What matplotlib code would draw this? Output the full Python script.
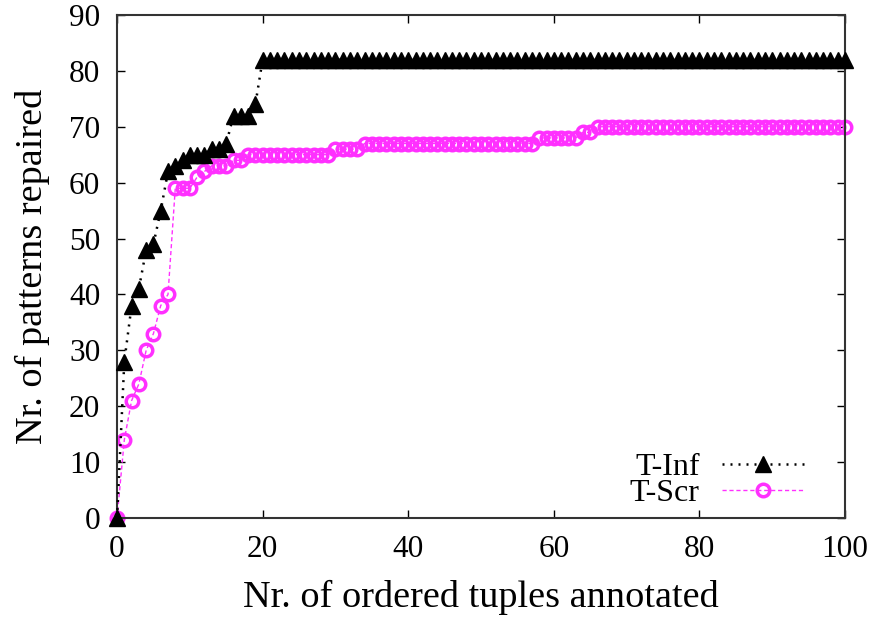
import numpy as np
import matplotlib
matplotlib.use('Agg')
import matplotlib.pyplot as plt

# Tuplas anotadas (eje x) y patrones reparados por cada estrategia
tuplas = np.arange(0, 101)

t_inf_ini = [0, 28, 38, 41, 48, 49, 55, 62, 63, 64, 65, 65, 65, 66, 66, 67,
             72, 72, 72, 74]
t_inf = t_inf_ini + [82] * (101 - len(t_inf_ini))

t_scr_ini = [0, 14, 21, 24, 30, 33, 38, 40, 59, 59, 59, 61, 62, 63, 63, 63,
             64, 64]
t_scr = (t_scr_ini + [65] * 12 + [66] * 4 + [67] * 24 + [68] * 6 + [69] * 2
         + [70] * 35)

plt.rcParams['font.family'] = ['Liberation Serif', 'DejaVu Serif']

fig = plt.figure(figsize=(8.88, 6.2), dpi=100)
ax = fig.add_axes([0.1318, 0.1645, 0.8198, 0.8113])

ax.plot(tuplas, t_inf, color='black', linestyle=(0, (0.8, 2.4)), linewidth=1.8,
        marker='^', markersize=11.5, markerfacecolor='black',
        markeredgecolor='black', label='T-Inf', zorder=3, clip_on=False)
ax.plot(tuplas, t_scr, color='#ff30ff', linestyle=(0, (3, 2)), linewidth=1.0,
        marker='o', markersize=9, markerfacecolor='none',
        markeredgecolor='#ff30ff', markeredgewidth=2.5, label='T-Scr',
        zorder=2, clip_on=False)

ax.set_xlim(0, 100)
ax.set_ylim(0, 90)
ax.set_xticks(np.arange(0, 101, 20))
ax.set_yticks(np.arange(0, 91, 10))
ax.tick_params(direction='in', length=6, width=1, top=True, right=True,
               pad=12, labelsize=22.5)
for s in ax.spines.values():
    s.set_linewidth(1.5)
    s.set_color('#333333')

ax.set_xlabel('Nr. of ordered tuples annotated', fontsize=27.5, labelpad=12)
ax.set_ylabel('Nr. of patterns repaired', fontsize=27.5, labelpad=14)

leg = ax.legend(loc='lower right', bbox_to_anchor=(0.967, -0.012), frameon=False,
                markerfirst=False, handlelength=2.6, labelspacing=-0.1,
                borderpad=0, handletextpad=0.7, fontsize=23)

fig.savefig('out.png', dpi=100)
